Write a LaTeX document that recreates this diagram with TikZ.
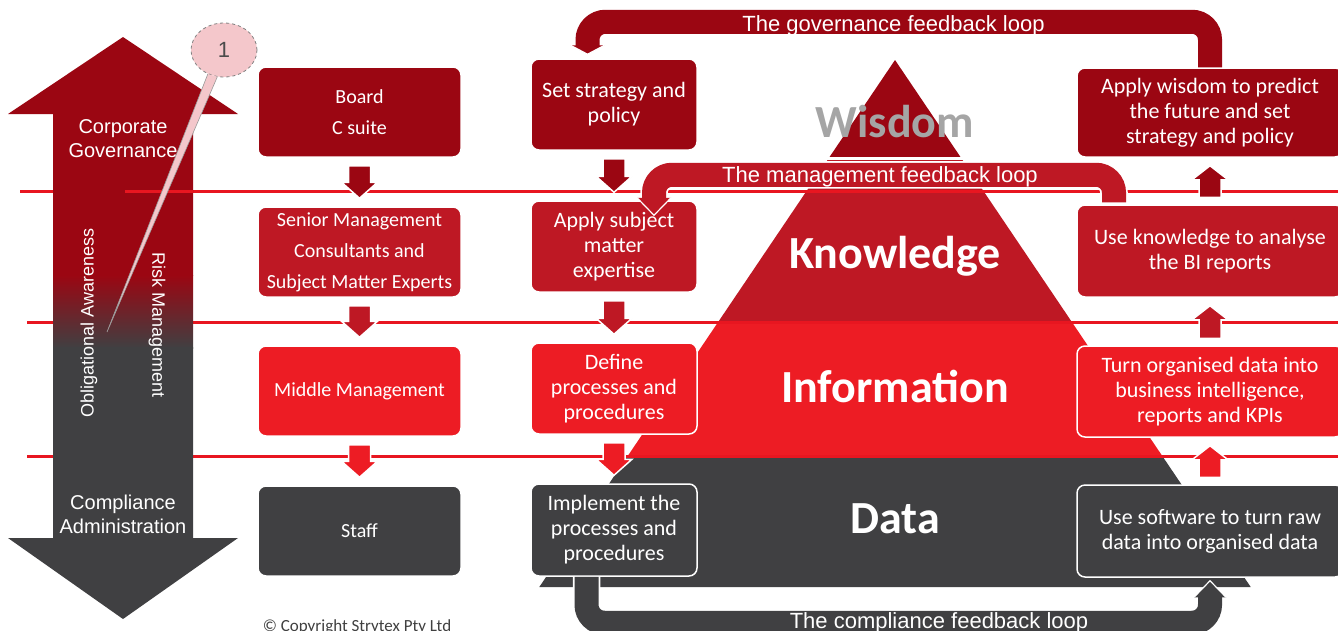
\documentclass[tikz,border=0pt]{standalone}
\usepackage{fontspec}
\setmainfont{Carlito}
\newfontfamily\arifont{Liberation Sans}
\usetikzlibrary{calc,shapes.geometric}
\definecolor{dred}{RGB}{155,6,18}
\definecolor{mred}{RGB}{190,24,36}
\definecolor{bred}{RGB}{237,28,36}
\definecolor{dgray}{RGB}{64,64,66}
\definecolor{cpink}{RGB}{244,199,203}
\definecolor{wgray}{RGB}{165,165,165}
\definecolor{hl}{RGB}{232,22,32}
\newcommand\arrdown[3]{\filldraw[fill=#3, draw=white, line width=1.5pt]
 ($(#1.south)+(-11,8)$) -- ($(#2.north)+(-11,-24)$) -- ($(#2.north)+(-18,-24)$) -- ($(#2.north)+(0,-8)$) -- ($(#2.north)+(18,-24)$) -- ($(#2.north)+(11,-24)$) -- ($(#1.south)+(11,8)$) -- cycle;}
\newcommand\arrup[3]{\filldraw[fill=#3, draw=white, line width=1.5pt]
 ($(#1.north)+(-11,-7)$) -- ($(#2.south)+(-11,22)$) -- ($(#2.south)+(-18,22)$) -- ($(#2.south)+(0,8)$) -- ($(#2.south)+(18,22)$) -- ($(#2.south)+(11,22)$) -- ($(#1.north)+(11,-7)$) -- cycle;}
\begin{document}
\begin{tikzpicture}[x=1pt,y=-1pt,
  box/.style={rounded corners=8pt, draw=white, line width=1.5pt, text=white, align=center, inner sep=0pt, font=\fontsize{22}{25}\selectfont},
  boxL/.style={box, fill=#1, minimum width=203pt, minimum height=90pt, font=\fontsize{20}{31}\selectfont},
  boxM/.style={box, fill=#1, minimum width=166pt, minimum height=91pt},
  boxR/.style={box, fill=#1, minimum width=266pt, minimum height=91pt},
  tier/.style={anchor=base, inner sep=0pt, font=\bfseries\fontsize{46}{50}\selectfont},
  lbl/.style={text=white, inner sep=0pt, align=center, font=\arifont\fontsize{20}{24}\selectfont},
  looplbl/.style={anchor=base, text=white, inner sep=0pt, font=\arifont\fontsize{22}{24}\selectfont},
  hline/.style={draw=hl, line width=3pt},
  band/.style={draw=#1, line width=24pt, rounded corners=18pt, preaction={draw=white, line width=27.5pt}},
  head/.style={fill=#1, draw=white, line width=1.2pt}
]
\clip (0,0) rectangle (1338,630);
\fill[white] (0,0) rectangle (1338,630);
% pyramid
\begin{scope}
\clip (895,60) -- (1250.7,587) -- (539.3,587) -- cycle;
\fill[dred] (500,55) rectangle (1300,157);
\fill[mred] (500,160) rectangle (1300,322);
\fill[bred] (500,322) rectangle (1300,457);
\fill[dgray] (500,457) rectangle (1300,590);
\end{scope}
% horizontal lines
\draw[hline] (20,191) -- (1340,191);
\draw[hline] (27,322) -- (1340,322);
\draw[hline] (27,456) -- (1340,456);
% big double arrow
\begin{scope}
\clip (123,37) -- (238,114) -- (193,114) -- (193,538) -- (238,538) -- (123,619) -- (8,538) -- (53,538) -- (53,114) -- (8,114) -- cycle;
\fill[dred] (0,30) rectangle (250,276);
\shade[top color=dred, bottom color=dgray] (0,275) rectangle (250,348);
\fill[dgray] (0,347) rectangle (250,625);
\end{scope}
\draw[hline] (125,191) -- (193,191);
\node[lbl] (cg) at (123,139) {Corporate\\Governance};
\node[lbl] (ca) at (123,514) {Compliance\\Administration};
\node[lbl, rotate=90, font=\arifont\fontsize{18}{20}\selectfont] (oa) at (89,323) {Obligational Awareness};
\node[lbl, rotate=-90, font=\arifont\fontsize{18}{20}\selectfont] (rm) at (157,325) {Risk Management};
% callout
\node[ellipse, fill=cpink, draw=gray, dashed, line width=0.8pt, minimum width=66pt, minimum height=54pt, inner sep=0pt, font=\arifont\fontsize{22}{24}\selectfont, text=black!70] (co) at (224,50) {1};
\coordinate (cotip) at (107,332);
\filldraw[fill=cpink, draw=gray!80, line width=0.6pt] (co.236) -- (cotip) -- (co.256);
% tier words
\node[tier, text=wgray] (tw) at (895,137) {Wisdom};
\node[tier, text=white] (tk) at (895,268) {Knowledge};
\node[tier, text=white] (ti) at (895,402) {Information};
\node[tier, text=white] (td) at (895,533) {Data};
% left boxes
\node[boxL=dred] (board) at (359.5,112) {Board\\C suite};
\node[boxL=mred] (senior) at (359.5,252) {Senior Management\\Consultants and\\Subject Matter Experts};
\node[boxL=bred] (middle) at (359.5,391) {Middle Management};
\node[boxL=dgray] (staff) at (359.5,531) {Staff};
% middle boxes
\node[boxM=dred] (setb) at (614,104.5) {Set strategy and\\policy};
\node[boxM=mred] (apply) at (614,246.5) {Apply subject\\matter\\expertise};
\node[boxM=bred] (define) at (614,388.5) {Define\\processes and\\procedures};
\node[boxM=dgray, minimum height=92pt] (impl) at (614,530) {Implement the\\processes and\\procedures};
% right boxes
\node[boxR=dred, minimum height=89pt] (wis) at (1210,112.5) {Apply wisdom to predict\\the future and set\\strategy and policy};
\node[boxR=mred, minimum height=92pt] (know) at (1210,251) {Use knowledge to analyse\\the BI reports};
\node[boxR=bred] (turn) at (1210,391.5) {Turn organised data into\\business intelligence,\\reports and KPIs};
\node[boxR=dgray, minimum height=92pt] (soft) at (1210,531) {Use software to turn raw\\data into organised data};
% box arrows
\arrdown{board}{senior}{dred}
\arrdown{senior}{middle}{mred}
\arrdown{middle}{staff}{bred}
\arrdown{setb}{apply}{dred}
\arrdown{apply}{define}{mred}
\arrdown{define}{impl}{bred}
\arrup{soft}{turn}{bred}
\arrup{turn}{know}{mred}
\arrup{know}{wis}{dred}
% governance loop
\coordinate (gS) at (wis.north);
\coordinate (gT) at ($(setb.north)+(-26.5,-4)$);
\draw[band=dred] (gS) |- ($(gT)+(0,-32.5)$) -- ($(gT)+(0,-8)$);
\filldraw[head=dred] ($(gT)+(-17,-9)$) -- (gT) -- ($(gT)+(17,-9)$);
% management loop
\coordinate (mS) at ($(know.north)+(-96,-2)$);
\coordinate (mT) at ($(apply.north)+(40,15)$);
\draw[band=mred] (mS) |- ($(mT)+(0,-40.5)$) -- ($(mT)+(0,-16.5)$);
\filldraw[head=mred] ($(mT)+(-17,-17.5)$) -- (mT) -- ($(mT)+(17,-17.5)$);
% compliance loop
\coordinate (cS) at ($(impl.south)+(-27.5,0)$);
\coordinate (cT) at ($(soft.south)+(0,3)$);
\draw[band=dgray] (cS) |- ($(cT)+(0,42)$) -- ($(cT)+(0,15.5)$);
\filldraw[head=dgray] ($(cT)+(-16,16.5)$) -- (cT) -- ($(cT)+(16,16.5)$);
% loop labels
\node[looplbl] (gl) at (893.5,31) {The governance feedback loop};
\node[looplbl] (ml) at (880,182) {The management feedback loop};
\node[looplbl] (cl) at (939,628) {The compliance feedback loop};
% copyright
\node[anchor=base, inner sep=0pt, text=black!75, font=\fontsize{17}{20}\selectfont] (copy) at (357,631) {© Copyright Strytex Pty Ltd};
\end{tikzpicture}
\end{document}
